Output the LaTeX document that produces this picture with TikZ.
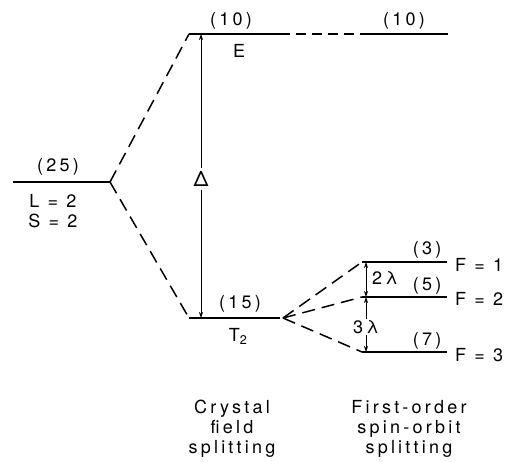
\documentclass[tikz,border=0pt]{standalone}
\usepackage{fontspec}
\setmainfont{TeX Gyre Heros}[LetterSpace=18]
\usetikzlibrary{positioning, arrows.meta, calc}

\begin{document}
\begin{tikzpicture}[x=1pt, y=-1pt,
  level/.style={line width=1.7pt},
  link/.style={line width=1.5pt, dash pattern=on 13pt off 7pt},
  gap/.style={-{Stealth[length=6pt, width=4pt]}, line width=0.7pt},
  lbl/.style={font=\fontsize{18}{20}\selectfont, inner sep=1pt},
]
  \useasboundingbox (0,0) rectangle (508,461);

  % free ion term
  \coordinate (freeL) at (13,182);
  \coordinate (freeR) at (110,182);
  \draw[level] (freeL) -- (freeR);
  \node[lbl] (deg25) at (58,167) {(25)};
  \node[lbl] (Lval) at (53,201) {L = 2};
  \node[lbl] (Sval) at (53,221) {S = 2};

  % crystal field levels
  \coordinate (eL) at (189,34);
  \coordinate (eR) at (280,34);
  \coordinate (tL) at (189,318);
  \coordinate (tR) at (280,318);
  \draw[level] (eL) -- (eR);
  \draw[level] (tL) -- (tR);
  \node[lbl] (deg10) at (231,21) {(10)};
  \node[lbl] (Elbl) at (239,51) {E};
  \node[lbl] (deg15) at (240,304) {(15)};
  \node[lbl] (Tlbl) at (238,336) {T\textsubscript{2}};

  \draw[link] (freeR) -- (eL);
  \draw[link] (freeR) -- (tL);

  % splitting Delta
  \node[lbl, font=\fontsize{21}{23}\selectfont, inner sep=3pt] (Dlbl) at (201,179) {Δ};
  \draw[gap] (Dlbl.north) -- (Dlbl.north |- eL);
  \draw[gap] (Dlbl.south) -- (Dlbl.south |- tL);

  % E carries over unchanged
  \coordinate (eeL) at (362,34);
  \coordinate (eeR) at (448,34);
  \draw[level] (eeL) -- (eeR);
  \draw[link, dash pattern=on 10pt off 6pt] (eR) -- (eeL);
  \node[lbl] (deg10b) at (404,21) {(10)};

  % spin-orbit levels
  \coordinate (f1L) at (362,262);
  \coordinate (f1R) at (447,262);
  \coordinate (f2L) at (362,297);
  \coordinate (f2R) at (447,297);
  \coordinate (f3L) at (362,352);
  \coordinate (f3R) at (447,352);
  \draw[level] (f1L) -- (f1R);
  \draw[level] (f2L) -- (f2R);
  \draw[level] (f3L) -- (f3R);
  \node[lbl] (deg3) at (427,250) {(3)};
  \node[lbl] (deg5) at (427,286) {(5)};
  \node[lbl] (deg7) at (427,341) {(7)};
  \node[lbl, anchor=west] (F1) at (454,265) {F = 1};
  \node[lbl, anchor=west] (F2) at (454,299) {F = 2};
  \node[lbl, anchor=west] (F3) at (454,355) {F = 3};

  \coordinate (tFan) at (283,318);
  \draw[link] (tFan) -- (f1L);
  \draw[link] (tFan) -- (f2L);
  \draw[link] (tFan) -- (f3L);

  % lambda gaps
  \coordinate (g1) at (366,262);
  \coordinate (g2) at (366,297);
  \coordinate (g3) at (366,352);
  \coordinate (gMid) at (366,279);
  \draw[gap] (gMid) -- (g1);
  \draw[gap] (gMid) -- (g2);
  \node[lbl] (lam2) at (385,278) {2λ};
  \node[lbl] (lam3) at (366,327) {3λ};
  \draw[gap] (lam3.north) -- (lam3.north |- g2);
  \draw[gap] (lam3.south) -- (lam3.south |- g3);

  % captions
  \node[lbl, align=center] (capCF) at (232,429)
    {Crystal\\field\\splitting};
  \node[lbl, align=center] (capSO) at (409,429)
    {First-order\\spin-orbit\\splitting};
\end{tikzpicture}
\end{document}
